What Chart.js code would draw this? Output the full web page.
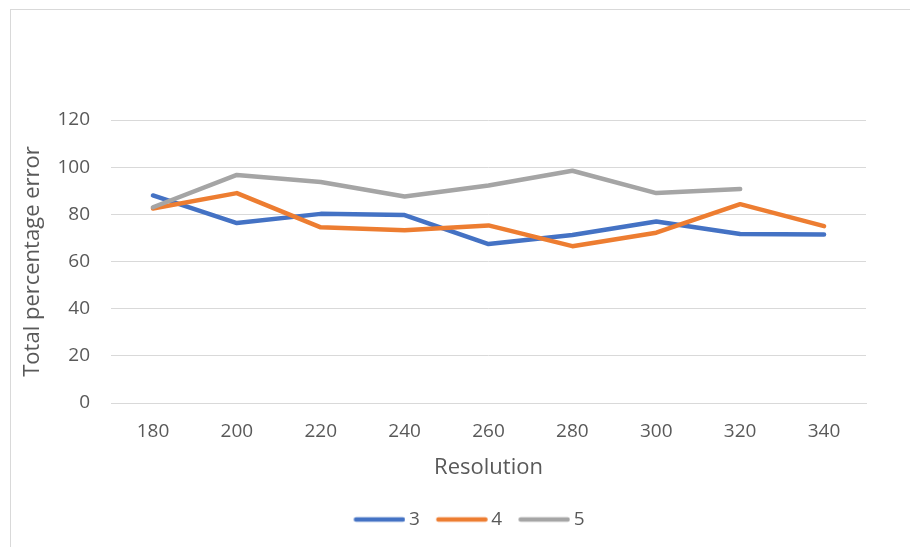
<!DOCTYPE html>
<html>
<head>
<meta charset="utf-8">
<script src="https://cdn.jsdelivr.net/npm/chart.js@4/dist/chart.umd.min.js"></script>
<style>
  html, body { margin: 0; padding: 0; background: #ffffff; }
  #wrap { position: relative; width: 910px; height: 547px; }
</style>
</head>
<body>
<div id="wrap"><canvas id="chart" width="910" height="547"></canvas></div>
<script>
// Resolution values along the horizontal axis
const resolutions = ['180', '200', '220', '240', '260', '280', '300', '320', '340'];

// Total percentage error for each series
const series3 = [88, 76.3, 80.2, 79.7, 67.4, 71.2, 77, 71.7, 71.5];
const series4 = [82.5, 89, 74.5, 73.3, 75.3, 66.5, 72.2, 84.3, 75];
const series5 = [83, 96.7, 93.7, 87.6, 92.2, 98.5, 89, 90.7, null];

const seriesNames = ['3', '4', '5'];
const seriesColors = ['#4472C4', '#ED7D31', '#A5A5A5'];

const textColor = '#595959';
const fontFamily = '"Open Sans", "Noto Sans", sans-serif';

// Thin outer frame around the chart
const framePlugin = {
  id: 'frame',
  beforeDraw(chart) {
    const ctx = chart.ctx;
    ctx.save();
    ctx.fillStyle = '#ffffff';
    ctx.fillRect(0, 0, chart.width, chart.height);
    ctx.strokeStyle = '#D9D9D9';
    ctx.lineWidth = 1;
    ctx.strokeRect(10.5, 9.5, 1200, 1200);
    ctx.restore();
  }
};

// Round-capped stroke used as the legend marker of a series;
// the stroke sits at the right end so it runs close to its label
function legendStroke(color) {
  const c = document.createElement('canvas');
  c.width = 62;
  c.height = 8;
  const g = c.getContext('2d');
  g.strokeStyle = color;
  g.lineWidth = 4.5;
  g.lineCap = 'round';
  g.beginPath();
  g.moveTo(12.5, 4);
  g.lineTo(59.5, 4);
  g.stroke();
  return c;
}

function lineDataset(label, data, color, order) {
  return {
    label: label,
    data: data,
    borderColor: color,
    backgroundColor: color,
    borderWidth: 4.5,
    borderCapStyle: 'round',
    borderJoinStyle: 'round',
    pointRadius: 0,
    pointHoverRadius: 0,
    pointStyle: legendStroke(color),
    tension: 0,
    fill: false,
    spanGaps: false,
    order: order
  };
}

new Chart(document.getElementById('chart'), {
  type: 'line',
  data: {
    labels: resolutions,
    datasets: [
      lineDataset(seriesNames[0], series3, seriesColors[0], 2),
      lineDataset(seriesNames[1], series4, seriesColors[1], 1),
      lineDataset(seriesNames[2], series5, seriesColors[2], 0)
    ]
  },
  options: {
    responsive: false,
    animation: false,
    layout: { padding: { top: 120, left: 24, right: 0, bottom: 8 } },
    plugins: {
      tooltip: { enabled: false },
      legend: {
        position: 'bottom',
        labels: {
          usePointStyle: true,
          pointStyleWidth: 50,
          boxHeight: 19,
          color: textColor,
          padding: 12,
          font: { family: fontFamily, size: 19 },
          sort: (a, b) => a.datasetIndex - b.datasetIndex
        }
      }
    },
    scales: {
      x: {
        offset: true,
        grid: { display: false, drawTicks: false },
        border: { display: true, color: '#D9D9D9', width: 1 },
        ticks: { color: textColor, padding: 17, font: { family: fontFamily, size: 19 }, maxRotation: 0 },
        title: {
          display: true,
          text: 'Resolution',
          color: textColor,
          font: { family: fontFamily, size: 22 },
          padding: { top: 10, bottom: 17 }
        },
        afterFit(scale) { scale.height = 95; }
      },
      y: {
        min: 0,
        max: 120,
        ticks: { stepSize: 20, color: textColor, padding: 21, font: { family: fontFamily, size: 19 } },
        grid: { color: '#D9D9D9', lineWidth: 1, drawTicks: false },
        border: { display: false },
        title: {
          display: true,
          text: 'Total percentage error',
          color: textColor,
          font: { family: fontFamily, size: 22 },
          padding: { top: -4, bottom: 0 }
        },
        afterFit(scale) { scale.width = 87; }
      },
      // empty margin to the right of the plot
      yRight: {
        position: 'right',
        display: true,
        grid: { display: false, drawTicks: false },
        border: { display: false },
        ticks: { display: false },
        afterFit(scale) { scale.width = 44; }
      }
    }
  },
  plugins: [framePlugin]
});
</script>
</body>
</html>
